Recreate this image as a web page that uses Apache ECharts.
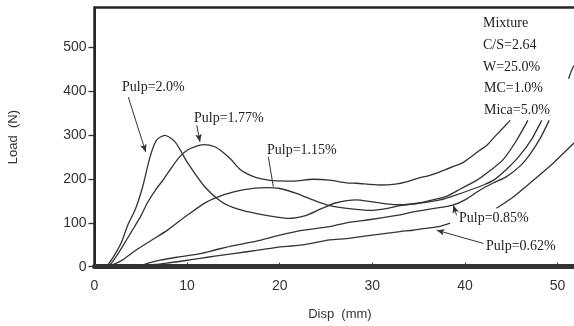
<!DOCTYPE html>
<html>
<head>
<meta charset="utf-8">
<script src="https://cdn.jsdelivr.net/npm/echarts@6/dist/echarts.min.js"></script>
<style>
html,body{margin:0;padding:0;background:#fff;}
#c{width:574px;height:326px;}
</style>
</head>
<body>
<div id="c"></div>
<script>
// Tick labels
var xTicks = [0, 10, 20, 30, 40, 50];
var yTicks = [0, 100, 200, 300, 400, 500];

// Series names
var seriesNames = ['Pulp=2.0%', 'Pulp=1.77%', 'Pulp=1.15%', 'Pulp=0.85%', 'Pulp=0.62%'];

// Load (N) vs Disp (mm)
var pulp200 = [[0,0],[1,0],[1.5,6],[2.2,28],[2.9,55],[3.6,95],[4.4,130],[5.2,182],[6.0,250],[6.7,288],[7.6,299],[8.7,284],[10.1,235],[11.9,182],[13.7,148],[15.5,131],[17.5,121],[19.7,113],[21,110],[22.9,117],[24.5,132],[26,145],[28.3,152],[29.8,148],[31.5,143],[33,141],[35,145],[36.5,152],[38,160],[39.6,178],[41.3,197],[42.8,220],[44.1,243],[45.5,285],[46.8,333]];
var pulp177 = [[0,0],[1,0],[1.7,5],[2.4,25],[3,45],[4,80],[5,115],[5.7,145],[6.6,175],[7.5,200],[8.4,228],[9.2,250],[10,265],[10.8,273],[11.8,278],[13,273],[13.9,260],[14.8,243],[15.7,222],[16.6,210],[17.5,203],[19.3,196],[21.5,195],[23.6,199],[25.4,197],[27.2,191],[28.3,190],[30.8,186],[32.5,188],[33.7,193],[34.9,201],[36.2,208],[37.3,216],[39.1,231],[39.8,237],[41.6,265],[42.4,277],[43.4,300],[44.9,333]];
var pulp115 = [[0,0],[1.2,0],[2,5],[3,15],[4.5,38],[6,58],[8,85],[10,117],[12,146],[14,164],[16,175],[18.6,180],[20,178],[21.8,167],[23.6,152],[25.4,139],[27.5,132],[29.8,128],[31.5,132],[33,139],[35,144],[37.3,152],[39,163],[40.5,174],[42,186],[43.1,197],[44.5,222],[45.8,250],[47.2,290],[48.3,333]];
var pulp085 = [[0,0],[4.5,0],[5.8,8],[7.1,15],[9,22],[11.4,30],[13,38],[15,48],[17.5,58],[19.7,70],[22.2,82],[25.4,91],[27.2,100],[30,108],[33,118],[34.4,125],[36.5,132],[38.7,140],[40,152],[41.6,174],[43,190],[44.5,205],[46,230],[47.1,258],[48.2,295],[49.1,333]];
var pulp062 = [[0,0],[5,0],[6.5,5],[7.8,8],[9.5,13],[11.4,19],[13,24],[15,30],[17.5,37],[19.7,44],[22.2,49],[25.4,61],[27.2,64],[30,72],[33,80],[34.4,83],[36,88],[37.3,92],[38.4,99],[40.5,'-'],[43.4,133],[45,155],[47,190],[49.5,235],[51.7,280],[52.2,290]];
var tailPiece = [[51.2,428],[51.7,455],[52.2,466]];

var lineColor = '#333333';
var serif = '"Liberation Serif", "Times New Roman", serif';
var sans = '"Liberation Sans", Arial, sans-serif';

function mkSeries(name, data, arrow) {
  var s = {
    name: name, type: 'line', data: data, showSymbol: false, symbol: 'none',
    smooth: 0.25, connectNulls: false,
    lineStyle: {color: lineColor, width: 1.3},
    silent: true, z: 3
  };
  if (arrow) {
    s.markLine = {
      silent: true, symbol: arrow.symbol, symbolSize: [5, 8],
      lineStyle: {color: lineColor, width: 1, type: 'solid'},
      label: {show: false},
      data: [[{coord: arrow.from}, {coord: arrow.to}]]
    };
  }
  return s;
}

var chart = echarts.init(document.getElementById('c'), null, {renderer: 'canvas'});
chart.setOption({
  animation: false,
  backgroundColor: '#ffffff',
  grid: {left: 94.5, top: 7.5, width: 490.8, height: 259.2, outerBoundsMode: 'none', containLabel: false, show: true, borderColor: '#262626', borderWidth: 2.5, backgroundColor: 'transparent'},
  xAxis: {
    type: 'value', min: 0, max: 53,
    name: 'Disp  (mm)', nameLocation: 'middle', nameGap: 41,
    nameTextStyle: {fontFamily: sans, fontSize: 13, color: '#333'},
    axisLine: {show: true, lineStyle: {color: '#333', width: 5}},
    axisTick: {show: true, inside: true, length: 4, lineStyle: {color: '#333', width: 1}, customValues: xTicks},
    axisLabel: {fontFamily: sans, fontSize: 14, color: '#333', margin: 12, customValues: xTicks},
    splitLine: {show: false}
  },
  yAxis: {
    type: 'value', min: 0, max: 590,
    name: 'Load  (N)', nameLocation: 'middle', nameGap: 75, nameRotate: 90,
    nameTextStyle: {fontFamily: sans, fontSize: 13, color: '#333'},
    axisLine: {show: true, lineStyle: {color: '#262626', width: 2}},
    axisTick: {show: true, inside: false, length: 6, lineStyle: {color: '#333', width: 1.3}, customValues: yTicks},
    axisLabel: {fontFamily: sans, fontSize: 14, color: '#333', margin: 8, customValues: yTicks},
    splitLine: {show: false}
  },
  series: [
    mkSeries(seriesNames[0], pulp200, {from: [3.65, 386], to: [5.53, 261], symbol: ['none', 'arrow']}),
    mkSeries(seriesNames[1], pulp177, {from: [11.04, 322], to: [11.39, 284], symbol: ['none', 'arrow']}),
    mkSeries(seriesNames[2], pulp115, {from: [18.77, 250], to: [19.31, 182], symbol: ['none', 'none']}),
    mkSeries(seriesNames[3], pulp085, {from: [39.1, 117], to: [38.75, 140], symbol: ['none', 'arrow']}),
    mkSeries(seriesNames[4], pulp062, {from: [42.0, 53], to: [36.95, 83], symbol: ['none', 'arrow']}),
    mkSeries('tail', tailPiece, null)
  ],
  graphic: [
    {type: 'text', x: 122, y: 87, style: {text: 'Pulp=2.0%', font: '14px ' + serif, fill: '#222', verticalAlign: 'middle'}},
    {type: 'text', x: 194, y: 118, style: {text: 'Pulp=1.77%', font: '14px ' + serif, fill: '#222', verticalAlign: 'middle'}},
    {type: 'text', x: 267, y: 150, style: {text: 'Pulp=1.15%', font: '14px ' + serif, fill: '#222', verticalAlign: 'middle'}},
    {type: 'text', x: 483, y: 23.5, style: {text: 'Mixture', font: '14px ' + serif, fill: '#222', verticalAlign: 'middle'}},
    {type: 'text', x: 483, y: 45, style: {text: 'C/S=2.64', font: '14px ' + serif, fill: '#222', verticalAlign: 'middle'}},
    {type: 'text', x: 483, y: 67, style: {text: 'W=25.0%', font: '14px ' + serif, fill: '#222', verticalAlign: 'middle'}},
    {type: 'text', x: 484, y: 88.5, style: {text: 'MC=1.0%', font: '14px ' + serif, fill: '#222', verticalAlign: 'middle'}},
    {type: 'text', x: 484, y: 110, style: {text: 'Mica=5.0%', font: '14px ' + serif, fill: '#222', verticalAlign: 'middle'}},
    {type: 'text', x: 459, y: 218.5, style: {text: 'Pulp=0.85%', font: '14px ' + serif, fill: '#222', verticalAlign: 'middle'}},
    {type: 'text', x: 486, y: 246, style: {text: 'Pulp=0.62%', font: '14px ' + serif, fill: '#222', verticalAlign: 'middle'}}
  ]
});
</script>
</body>
</html>
